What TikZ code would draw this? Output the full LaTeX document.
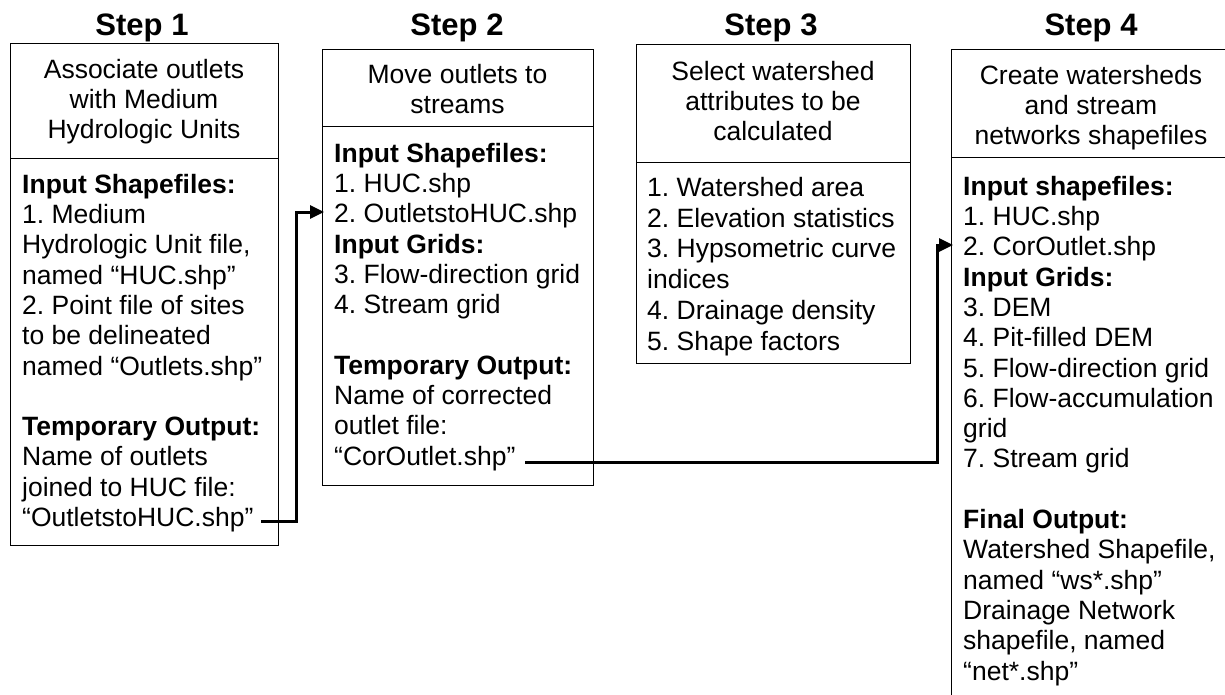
\documentclass[tikz,border=0pt]{standalone}
\usepackage{fontspec}
\setmainfont{Liberation Sans}
\usetikzlibrary{arrows.meta}
\AtBeginDocument{\frenchspacing}
\newcommand{\FL}{\rule{0pt}{20pt}}
\begin{document}
\begin{tikzpicture}[x=1pt,y=-1pt,
  boxpart/.style={draw, line width=1.2pt, anchor=north west, inner sep=0pt},
  steplabel/.style={font=\fontsize{31}{36}\selectfont\bfseries, anchor=base, inner sep=0pt},
  headtext/.style={font=\fontsize{26.5}{30.3}\selectfont\frenchspacing, align=center, anchor=north, inner sep=0pt},
  bodytext/.style={font=\fontsize{26.5}{30.3}\selectfont\frenchspacing, align=left, anchor=north west, inner sep=0pt},
  conn/.style={line width=3pt, line join=miter, -{Triangle[length=14pt,width=13pt]}}
]
\useasboundingbox (0,0) rectangle (1225,694);

% Step labels
\node[steplabel] (st1) at (142,35) {Step 1};
\node[steplabel] (st2) at (457,35) {Step 2};
\node[steplabel] (st3) at (771,35) {Step 3};
\node[steplabel] (st4) at (1091,35) {Step 4};

% Box 1
\node[boxpart, minimum width=268pt, minimum height=115pt] (s1head) at (10,43) {};
\node[boxpart, minimum width=268pt, minimum height=387pt] (s1body) at (10,158) {};
\node[headtext] (s1title) at (144,58) {\FL Associate outlets\\with Medium\\Hydrologic Units};
\node[bodytext] (s1inA) at (22,173) {\FL\textbf{Input Shapefiles:}\\1. Medium\\Hydrologic Unit file,\\named “HUC.shp”\\2. Point file of sites\\to be delineated\\named “Outlets.shp”};
\node[bodytext] (s1inB) at (22,415.4) {\FL\textbf{Temporary Output:}\\Name of outlets\\joined to HUC file:\\“OutletstoHUC.shp”};

% Box 2
\node[boxpart, minimum width=271pt, minimum height=77pt] (s2head) at (322,49) {};
\node[boxpart, minimum width=271pt, minimum height=359pt] (s2body) at (322,126) {};
\node[headtext] (s2title) at (457.5,63) {\FL Move outlets to\\streams};
\node[bodytext] (s2inA) at (334,142) {\FL\textbf{Input Shapefiles:}\\1. HUC.shp\\2. OutletstoHUC.shp\\\textbf{Input Grids:}\\3. Flow-direction grid\\4. Stream grid};
\node[bodytext] (s2inB) at (334,354.1) {\FL\textbf{Temporary Output:}\\Name of corrected\\outlet file:\\“CorOutlet.shp”};

% Box 3
\node[boxpart, minimum width=274pt, minimum height=118pt] (s3head) at (636,44) {};
\node[boxpart, minimum width=274pt, minimum height=201pt] (s3body) at (636,162) {};
\node[headtext] (s3title) at (773,60) {\FL Select watershed\\attributes to be\\calculated};
\node[bodytext, font=\fontsize{26.5}{30.8}\selectfont\frenchspacing] (s3list) at (647,176) {\FL 1. Watershed area\\2. Elevation statistics\\3. Hypsometric curve\\indices\\4. Drainage density\\5. Shape factors};

% Box 4 (runs past the right and bottom edges)
\begin{scope}
\clip (0,0) rectangle (1225,694);
\node[boxpart, minimum width=280pt, minimum height=108pt] (s4head) at (951,49) {};
\node[boxpart, minimum width=280pt, minimum height=563pt] (s4body) at (951,157) {};
\end{scope}
\node[headtext] (s4title) at (1091,64) {\FL Create watersheds\\and stream\\networks shapefiles};
\node[bodytext] (s4inA) at (963,175) {\FL\textbf{Input shapefiles:}\\1. HUC.shp\\2. CorOutlet.shp\\\textbf{Input Grids:}\\3. DEM\\4. Pit-filled DEM\\5. Flow-direction grid\\6. Flow-accumulation\\grid\\7. Stream grid};
\node[bodytext] (s4out) at (963,508.3) {\FL\textbf{Final Output:}\\Watershed Shapefile,\\named “ws*.shp”\\Drainage Network\\shapefile, named\\“net*.shp”};

% Connectors
\coordinate (out1) at (261,521);
\coordinate (bend1) at (296,212);
\coordinate (in2) at (324,212);
\coordinate (out2) at (525,462);
\coordinate (bend2) at (937,245);
\coordinate (in4) at (953,245);
\draw[conn] (out1) -| (bend1) -- (in2);
\draw[conn] (out2) -| (bend2) -- (in4);
\end{tikzpicture}
\end{document}
